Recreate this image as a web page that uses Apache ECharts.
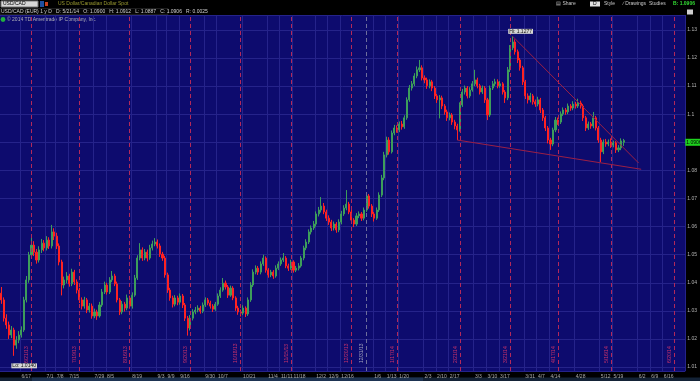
<!DOCTYPE html>
<html><head><meta charset="utf-8">
<script src="https://cdn.jsdelivr.net/npm/echarts@6/dist/echarts.min.js"></script>
<style>html,body{margin:0;padding:0;background:#000}#c{width:700px;height:381px}</style>
</head><body><div id="c"></div><script>
// ---- data (USD/CAD daily) ----
const opens = [
1.0363,1.0339,1.0274,1.0250,1.0214,1.0232,1.0178,1.0196,1.0214,1.0232,
1.0339,1.0410,1.0499,1.0534,1.0509,1.0481,1.0517,1.0541,1.0524,1.0552,
1.0531,1.0581,1.0566,1.0531,1.0474,1.0392,1.0410,1.0424,1.0396,1.0438,
1.0403,1.0374,1.0339,1.0317,1.0339,1.0303,1.0317,1.0282,1.0296,1.0282,
1.0321,1.0367,1.0392,1.0367,1.0410,1.0424,1.0396,1.0339,1.0296,1.0324,
1.0310,1.0346,1.0317,1.0356,1.0417,1.0488,1.0517,1.0488,1.0509,1.0488,
1.0524,1.0538,1.0545,1.0531,1.0502,1.0488,1.0428,1.0374,1.0346,1.0324,
1.0346,1.0331,1.0353,1.0321,1.0274,1.0239,1.0274,1.0296,1.0303,1.0310,
1.0299,1.0321,1.0339,1.0328,1.0317,1.0306,1.0324,1.0353,1.0374,1.0399,
1.0385,1.0356,1.0381,1.0346,1.0310,1.0296,1.0292,1.0310,1.0289,1.0339,
1.0392,1.0438,1.0452,1.0438,1.0467,1.0488,1.0445,1.0428,1.0438,1.0424,
1.0452,1.0467,1.0481,1.0488,1.0460,1.0452,1.0474,1.0445,1.0452,1.0460,
1.0488,1.0524,1.0545,1.0581,1.0595,1.0609,1.0645,1.0659,1.0673,1.0652,
1.0630,1.0616,1.0595,1.0609,1.0588,1.0616,1.0645,1.0666,1.0680,1.0652,
1.0623,1.0609,1.0638,1.0645,1.0630,1.0659,1.0709,1.0673,1.0645,1.0630,
1.0659,1.0712,1.0773,1.0855,1.0908,1.0866,1.0933,1.0951,1.0944,1.0965,
1.0955,1.0987,1.1051,1.1093,1.1108,1.1136,1.1158,1.1165,1.1129,1.1122,
1.1101,1.1115,1.1093,1.1065,1.1051,1.1058,1.1029,1.1008,1.0987,1.0997,
1.0972,1.0958,1.0944,1.1033,1.1079,1.1093,1.1065,1.1086,1.1108,1.1122,
1.1101,1.1079,1.1093,1.1051,1.0997,1.1093,1.1108,1.1115,1.1101,1.1108,
1.1079,1.1058,1.1158,1.1236,1.1257,1.1222,1.1193,1.1165,1.1115,1.1065,
1.1051,1.1065,1.1044,1.1036,1.1051,1.1015,1.0987,1.0951,1.0908,1.0894,
1.0944,1.0979,1.0972,1.1001,1.1015,1.1008,1.1029,1.1022,1.1036,1.1029,
1.1040,1.1029,1.0987,1.0951,1.0965,1.0958,1.0987,1.0951,1.0908,1.0866,
1.0901,1.0894,1.0901,1.0890,1.0898,1.0873,1.0880,1.0900
];
const closes = [
1.0339,1.0274,1.0250,1.0214,1.0232,1.0178,1.0196,1.0214,1.0232,1.0339,
1.0410,1.0499,1.0534,1.0509,1.0481,1.0517,1.0541,1.0524,1.0552,1.0531,
1.0581,1.0566,1.0531,1.0474,1.0392,1.0410,1.0424,1.0396,1.0438,1.0403,
1.0374,1.0339,1.0317,1.0339,1.0303,1.0317,1.0282,1.0296,1.0282,1.0321,
1.0367,1.0392,1.0367,1.0410,1.0424,1.0396,1.0339,1.0296,1.0324,1.0310,
1.0346,1.0317,1.0356,1.0417,1.0488,1.0517,1.0488,1.0509,1.0488,1.0524,
1.0538,1.0545,1.0531,1.0502,1.0488,1.0428,1.0374,1.0346,1.0324,1.0346,
1.0331,1.0353,1.0321,1.0274,1.0239,1.0274,1.0296,1.0303,1.0310,1.0299,
1.0321,1.0339,1.0328,1.0317,1.0306,1.0324,1.0353,1.0374,1.0399,1.0385,
1.0356,1.0381,1.0346,1.0310,1.0296,1.0292,1.0310,1.0289,1.0339,1.0392,
1.0438,1.0452,1.0438,1.0467,1.0488,1.0445,1.0428,1.0438,1.0424,1.0452,
1.0467,1.0481,1.0488,1.0460,1.0452,1.0474,1.0445,1.0452,1.0460,1.0488,
1.0524,1.0545,1.0581,1.0595,1.0609,1.0645,1.0659,1.0673,1.0652,1.0630,
1.0616,1.0595,1.0609,1.0588,1.0616,1.0645,1.0666,1.0680,1.0652,1.0623,
1.0609,1.0638,1.0645,1.0630,1.0659,1.0709,1.0673,1.0645,1.0630,1.0659,
1.0712,1.0773,1.0855,1.0908,1.0866,1.0933,1.0951,1.0944,1.0965,1.0955,
1.0987,1.1051,1.1093,1.1108,1.1136,1.1158,1.1165,1.1129,1.1122,1.1101,
1.1115,1.1093,1.1065,1.1051,1.1058,1.1029,1.1008,1.0987,1.0997,1.0972,
1.0958,1.0944,1.1033,1.1079,1.1093,1.1065,1.1086,1.1108,1.1122,1.1101,
1.1079,1.1093,1.1051,1.0997,1.1093,1.1108,1.1115,1.1101,1.1108,1.1079,
1.1058,1.1158,1.1236,1.1257,1.1222,1.1193,1.1165,1.1115,1.1065,1.1051,
1.1065,1.1044,1.1036,1.1051,1.1015,1.0987,1.0951,1.0908,1.0894,1.0944,
1.0979,1.0972,1.1001,1.1015,1.1008,1.1029,1.1022,1.1036,1.1029,1.1040,
1.1029,1.0987,1.0951,1.0965,1.0958,1.0987,1.0951,1.0908,1.0866,1.0901,
1.0894,1.0901,1.0890,1.0898,1.0873,1.0880,1.0905,1.0906
];
const highs = [
1.0385,1.0348,1.0288,1.0262,1.0246,1.0240,1.0210,1.0228,1.0245,1.0350,
1.0424,1.0510,1.0560,1.0548,1.0520,1.0530,1.0556,1.0552,1.0566,1.0562,
1.0606,1.0594,1.0578,1.0540,1.0482,1.0422,1.0438,1.0432,1.0450,1.0446,
1.0412,1.0382,1.0348,1.0350,1.0346,1.0328,1.0326,1.0308,1.0304,1.0332,
1.0378,1.0404,1.0400,1.0420,1.0442,1.0432,1.0404,1.0346,1.0335,1.0332,
1.0358,1.0354,1.0366,1.0428,1.0498,1.0541,1.0526,1.0520,1.0518,1.0535,
1.0550,1.0559,1.0554,1.0540,1.0510,1.0496,1.0436,1.0382,1.0354,1.0356,
1.0354,1.0362,1.0360,1.0328,1.0282,1.0285,1.0306,1.0314,1.0320,1.0318,
1.0330,1.0348,1.0346,1.0336,1.0324,1.0332,1.0362,1.0384,1.0417,1.0408,
1.0392,1.0390,1.0388,1.0352,1.0318,1.0305,1.0320,1.0316,1.0348,1.0402,
1.0448,1.0462,1.0460,1.0476,1.0500,1.0494,1.0452,1.0446,1.0445,1.0462,
1.0476,1.0490,1.0506,1.0495,1.0468,1.0482,1.0480,1.0460,1.0470,1.0496,
1.0532,1.0555,1.0590,1.0604,1.0620,1.0654,1.0670,1.0705,1.0684,1.0660,
1.0640,1.0624,1.0618,1.0616,1.0626,1.0656,1.0676,1.0730,1.0688,1.0660,
1.0630,1.0648,1.0654,1.0652,1.0668,1.0722,1.0716,1.0680,1.0652,1.0668,
1.0722,1.0784,1.0866,1.0920,1.0918,1.0942,1.0962,1.0960,1.0974,1.0976,
1.0996,1.1060,1.1104,1.1118,1.1146,1.1170,1.1193,1.1174,1.1138,1.1130,
1.1124,1.1122,1.1100,1.1072,1.1068,1.1066,1.1036,1.1016,1.1006,1.1004,
1.0980,1.0966,1.1042,1.1090,1.1102,1.1100,1.1096,1.1118,1.1158,1.1130,
1.1108,1.1102,1.1100,1.1058,1.1102,1.1118,1.1126,1.1124,1.1118,1.1114,
1.1086,1.1168,1.1246,1.1277,1.1266,1.1230,1.1200,1.1172,1.1122,1.1074,
1.1076,1.1072,1.1052,1.1062,1.1058,1.1022,1.0994,1.0958,1.0916,1.0952,
1.0990,1.0988,1.1010,1.1024,1.1022,1.1038,1.1036,1.1046,1.1044,1.1055,
1.1048,1.1036,1.0994,1.0974,1.0972,1.1008,1.0994,1.0958,1.0916,1.0910,
1.0912,1.0910,1.0914,1.0906,1.0904,1.0890,1.0914,1.0912
];
const lows = [
1.0325,1.0262,1.0236,1.0200,1.0203,1.0140,1.0165,1.0185,1.0205,1.0225,
1.0330,1.0400,1.0488,1.0495,1.0468,1.0472,1.0506,1.0512,1.0515,1.0520,
1.0522,1.0552,1.0520,1.0462,1.0355,1.0380,1.0398,1.0386,1.0388,1.0392,
1.0362,1.0328,1.0305,1.0308,1.0292,1.0294,1.0272,1.0274,1.0268,1.0276,
1.0314,1.0360,1.0358,1.0360,1.0402,1.0388,1.0330,1.0285,1.0288,1.0298,
1.0302,1.0308,1.0308,1.0350,1.0410,1.0480,1.0478,1.0480,1.0476,1.0482,
1.0515,1.0530,1.0522,1.0492,1.0478,1.0418,1.0364,1.0336,1.0312,1.0316,
1.0320,1.0322,1.0310,1.0264,1.0212,1.0230,1.0266,1.0288,1.0295,1.0290,
1.0292,1.0314,1.0320,1.0308,1.0296,1.0300,1.0318,1.0346,1.0368,1.0376,
1.0346,1.0350,1.0338,1.0300,1.0286,1.0280,1.0285,1.0278,1.0282,1.0332,
1.0385,1.0430,1.0428,1.0430,1.0460,1.0436,1.0418,1.0420,1.0414,1.0418,
1.0445,1.0460,1.0474,1.0452,1.0442,1.0446,1.0436,1.0438,1.0444,1.0454,
1.0480,1.0516,1.0538,1.0572,1.0588,1.0600,1.0636,1.0650,1.0644,1.0620,
1.0606,1.0584,1.0586,1.0578,1.0580,1.0608,1.0638,1.0658,1.0644,1.0614,
1.0598,1.0602,1.0630,1.0620,1.0622,1.0652,1.0664,1.0634,1.0618,1.0624,
1.0652,1.0705,1.0765,1.0846,1.0856,1.0860,1.0925,1.0934,1.0936,1.0945,
1.0948,1.0980,1.1044,1.1084,1.1100,1.1128,1.1150,1.1120,1.1110,1.1090,
1.1092,1.1082,1.1054,1.1040,1.0985,1.1018,1.0998,1.0976,1.0978,1.0962,
1.0946,1.0908,1.0938,1.1026,1.1070,1.1056,1.1058,1.1080,1.1100,1.1092,
1.1070,1.1072,1.1040,1.0979,1.0990,1.1086,1.1100,1.1092,1.1094,1.1070,
1.1040,1.1050,1.1150,1.1228,1.1212,1.1182,1.1155,1.1104,1.1054,1.1038,
1.1042,1.1034,1.1026,1.1028,1.1004,1.0976,1.0940,1.0896,1.0873,1.0886,
1.0936,1.0962,1.0965,1.0994,1.0998,1.1000,1.1012,1.1014,1.1020,1.1022,
1.1020,1.0976,1.0940,1.0944,1.0948,1.0950,1.0942,1.0898,1.0830,1.0858,
1.0884,1.0886,1.0880,1.0882,1.0862,1.0865,1.0872,1.0887
];
// categories: trading days (weekdays, exchange holidays skipped) incl. empty expansion area
const firstDay = [2013, 6, 5];
const skipDays = ['2013-07-04','2013-09-02','2013-11-28','2013-12-25','2014-01-01'];
const totalSlots = 272;
// bottom axis tick labels
const tickDates = ['6/17/13','7/1/13','7/8/13','7/15/13','7/29/13','8/5/13','8/19/13','9/3/13','9/9/13','9/16/13',
  '9/30/13','10/7/13','10/21/13','11/4/13','11/11/13','11/18/13','12/2/13','12/9/13','12/16/13','1/6/14',
  '1/13/14','1/20/14','2/3/14','2/10/14','2/17/14','3/3/14','3/10/14','3/17/14','3/31/14','4/7/14',
  '4/14/14','4/28/14','5/12/14','5/19/14','6/2/14','6/9/14','6/16/14'];
// option-expiration markers and year marker
const expiryDates = ['6/21/13','7/19/13','8/16/13','9/20/13','10/18/13','11/15/13','12/20/13',
  '1/17/14','2/21/14','3/21/14','4/17/14','5/16/14','6/20/14'];
const yearMarks = ['12/31/13'];
// hand-drawn trendlines [date, price]
const upperTrend = [['3/24/14', 1.1277], ['6/2/14', 1.0826]];
const lowerTrend = [['2/20/14', 1.0908], ['6/3/14', 1.0804]];
const headerText = 'USD/CAD (EUR) 1 y D   D: 5/21/14   O: 1.0900   H: 1.0912   L: 1.0887   C: 1.0906   R: 0.0025';

// ---- build ----
function buildDates() {
  const out = [];
  const d = new Date(Date.UTC(firstDay[0], firstDay[1] - 1, firstDay[2]));
  while (out.length < totalSlots) {
    const wd = d.getUTCDay();
    const iso = d.toISOString().slice(0, 10);
    if (wd !== 0 && wd !== 6 && !skipDays.includes(iso)) {
      out.push((d.getUTCMonth() + 1) + '/' + d.getUTCDate() + '/' + String(d.getUTCFullYear()).slice(2));
    }
    d.setUTCDate(d.getUTCDate() + 1);
  }
  return out;
}
const dates = buildDates();
const tickSet = new Set(tickDates);
const candles = opens.map((o, i) => [o, closes[i], lows[i], highs[i]]);
const hiIdx = highs.indexOf(Math.max(...highs));
const loIdx = lows.indexOf(Math.min(...lows));
const last = closes[closes.length - 1];
const FONT = 'Liberation Sans, Arial, sans-serif';

const markLines = [];
expiryDates.forEach(d => markLines.push({
  xAxis: d,
  lineStyle: { type: [4, 3], color: '#b3285a', width: 1 },
  label: { show: true, formatter: d, position: 'insideStartTop', color: '#c8326a', fontSize: 5, fontFamily: FONT, distance: [8, 2] }
}));
yearMarks.forEach(d => markLines.push({
  xAxis: d,
  lineStyle: { type: [4, 3], color: '#6e6e9c', width: 1 },
  label: { show: true, formatter: d, position: 'insideStartTop', color: '#a0a0bc', fontSize: 5, fontFamily: FONT, distance: [8, 2] }
}));
[upperTrend, lowerTrend].forEach(t => markLines.push([
  { coord: t[0], lineStyle: { type: 'solid', color: '#9c1f45', width: 1 }, label: { show: false } },
  { coord: t[1] }
]));

const chart = echarts.init(document.getElementById('c'), null, { renderer: 'canvas' });
chart.setOption({
  animation: false,
  backgroundColor: '#000',
  grid: { left: 0, right: 14, top: 15, height: 356, show: true, backgroundColor: '#0d0b6e', borderWidth: 0 },
  xAxis: {
    type: 'category', data: dates, boundaryGap: true,
    axisLine: { show: false }, axisTick: { show: false },
    axisLabel: { interval: (i, v) => tickSet.has(v), formatter: v => v.replace(/\/\d+$/, ''),
      color: '#a8a8a8', fontSize: 5, fontFamily: FONT, margin: 3, align: 'left' },
    splitLine: { show: true, interval: (i, v) => tickSet.has(v), lineStyle: { color: '#25238a', width: 1 } }
  },
  yAxis: {
    type: 'value', position: 'right', min: 1.0086, max: 1.1353, splitNumber: 12, scale: true,
    axisLine: { show: false }, axisTick: { show: false },
    axisLabel: { color: '#b4b4b4', fontSize: 5, fontFamily: FONT, margin: 2, showMinLabel: false, showMaxLabel: false },
    splitLine: { lineStyle: { color: '#25238a', width: 1 } }
  },
  series: [{
    type: 'candlestick', data: candles, barWidth: '62%',
    itemStyle: { color: '#3d9d5b', color0: '#ff2222', borderColor: '#3d9d5b', borderColor0: '#ff2222', borderWidth: 1 },
    markLine: { symbol: 'none', silent: true, animation: false, data: markLines },
    markPoint: {
      symbol: 'rect', symbolSize: 1, silent: true, itemStyle: { color: 'rgba(0,0,0,0)' },
      data: [
        { coord: [dates[hiIdx], highs[hiIdx]], label: { show: true, formatter: 'Hi: ' + highs[hiIdx].toFixed(4), position: [-4, -7],
          backgroundColor: '#d4d4d4', color: '#111', fontSize: 5, fontFamily: FONT, padding: [0, 1] } },
        { coord: [dates[loIdx], lows[loIdx]], label: { show: true, formatter: 'Lo: ' + lows[loIdx].toFixed(4), position: [-2, 8],
          backgroundColor: '#d4d4d4', color: '#111', fontSize: 5, fontFamily: FONT, padding: [0, 1] } }
      ]
    }
  }, {
    // last-price tag on the price axis
    type: 'line', data: [], z: 10,
    markLine: {
      symbol: 'none', silent: true, animation: false,
      lineStyle: { color: 'rgba(0,0,0,0)', width: 0 },
      data: [{ yAxis: last, label: { show: true, position: 'end', distance: 0, formatter: last.toFixed(4),
        backgroundColor: '#1ed21e', color: '#000', fontSize: 5, fontFamily: FONT, padding: [1, 1] } }]
    }
  }],
  graphic: [
    { type: 'rect', shape: { x: 1, y: 1, width: 37, height: 6 }, style: { fill: '#d8d8d8', stroke: '#777' } },
    { type: 'text', x: 3, y: 4, style: { text: 'USD/CAD', fontSize: 5, fontFamily: FONT, fill: '#000', verticalAlign: 'middle' } },
    { type: 'rect', shape: { x: 40, y: 1, width: 4, height: 6 }, style: { fill: '#2050a0' } },
    { type: 'rect', shape: { x: 45, y: 2, width: 3, height: 4 }, style: { fill: '#c84020' } },
    { type: 'text', x: 58, y: 4, style: { text: 'US Dollar/Canadian Dollar Spot', fontSize: 5, fontFamily: FONT, fill: '#9a9a30', verticalAlign: 'middle' } },
    { type: 'rect', shape: { x: 0, y: 8.5, width: 168, height: 6 }, style: { fill: '#050505', stroke: '#3a3a3a', lineWidth: 0.5 } },
    { type: 'text', x: 1, y: 11.7, style: { text: headerText, fontSize: 5, fontFamily: FONT, fill: '#d0d0d0', verticalAlign: 'middle' } },
    { type: 'circle', shape: { cx: 3, cy: 19.5, r: 2.4 }, style: { fill: '#22b040' } },
    { type: 'text', x: 7, y: 19.5, style: { text: '© 2014 TD Ameritrade IP Company, Inc.', fontSize: 5, fontFamily: FONT, fill: '#b0b0b8', verticalAlign: 'middle' } },
    { type: 'text', x: 556, y: 4, style: { text: '▤ Share', fontSize: 5, fontFamily: FONT, fill: '#c8c8c8', verticalAlign: 'middle' } },
    { type: 'rect', shape: { x: 590, y: 1.5, width: 10, height: 5 }, style: { fill: '#e0e0e0' } },
    { type: 'text', x: 593, y: 4, style: { text: 'D', fontSize: 5, fontFamily: FONT, fill: '#000', verticalAlign: 'middle' } },
    { type: 'text', x: 604, y: 4, style: { text: 'Style', fontSize: 5, fontFamily: FONT, fill: '#c8c8c8', verticalAlign: 'middle' } },
    { type: 'text', x: 623, y: 4, style: { text: '∕ Drawings', fontSize: 5, fontFamily: FONT, fill: '#c8c8c8', verticalAlign: 'middle' } },
    { type: 'text', x: 649, y: 4, style: { text: 'Studies', fontSize: 5, fontFamily: FONT, fill: '#c8c8c8', verticalAlign: 'middle' } },
    { type: 'text', x: 673, y: 4, style: { text: 'B: ' + last.toFixed(4), fontSize: 5, fontFamily: FONT, fill: '#33dd33', fontWeight: 'bold', verticalAlign: 'middle' } },
    { type: 'rect', shape: { x: 687, y: 9.5, width: 6, height: 5 }, style: { fill: '#d0d0d0' } },
    { type: 'rect', shape: { x: 0, y: 377.5, width: 700, height: 3.5 }, style: { fill: '#132236' } },
    { type: 'rect', shape: { x: 32, y: 377.5, width: 391, height: 3.5 }, style: { fill: '#1d3352' } }
  ]
});
</script></body></html>
